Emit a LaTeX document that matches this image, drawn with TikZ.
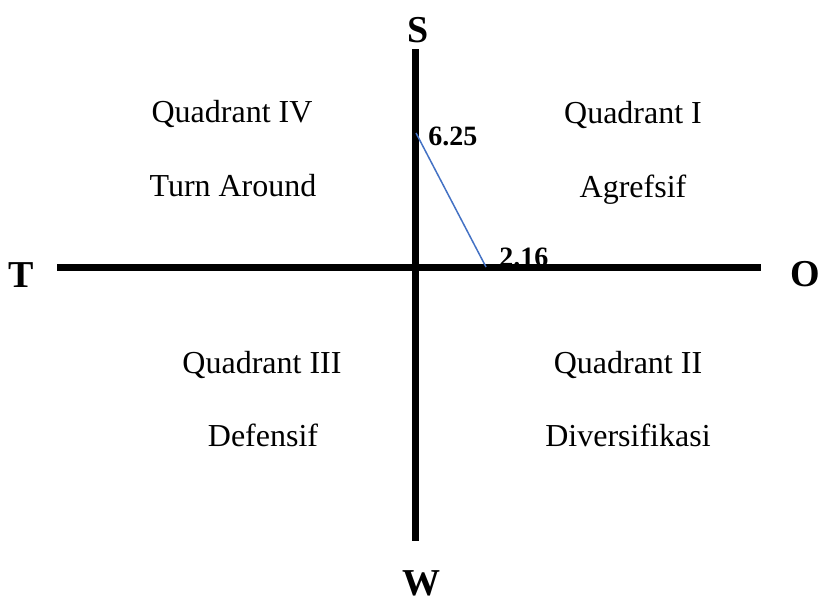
\documentclass[tikz,border=0pt]{standalone}
\usepackage{fontspec}
\setmainfont{Liberation Serif}
\usetikzlibrary{positioning}

\definecolor{lineblue}{HTML}{4472C4}

\begin{document}
\begin{tikzpicture}[x=0.5pt, y=-0.5pt,
	axis/.style={line width=3.4pt},
	axislabel/.style={font=\fontsize{19}{21}\selectfont\bfseries, anchor=base},
	quadlabel/.style={font=\fontsize{16}{18}\selectfont, anchor=base},
	value/.style={font=\fontsize{14}{16}\selectfont\bfseries, anchor=base west, inner sep=0pt}]
	\useasboundingbox (0,0) rectangle (819,601);
	% quadrant texts
	\node[quadlabel] (q4) at (232,122) {Quadrant IV};
	\node[quadlabel] (q4name) at (233,196) {Turn Around};
	\node[quadlabel] (q1) at (633,123) {Quadrant I};
	\node[quadlabel] (q1name) at (633,197) {Agrefsif};
	\node[quadlabel] (q3) at (262,373) {Quadrant III};
	\node[quadlabel] (q3name) at (263,446) {Defensif};
	\node[quadlabel] (q2) at (628,373) {Quadrant II};
	\node[quadlabel] (q2name) at (628,446) {Diversifikasi};
	% values
	\node[value] (vs) at (428,145) {6.25};
	\node[value] (vo) at (499,266) {2.16};
	% axis ends
	\coordinate (top) at (415.5,49);
	\coordinate (bottom) at (415.5,541);
	\coordinate (left) at (57,267.5);
	\coordinate (right) at (761,267.5);
	\draw[axis] (top) -- (bottom);
	\draw[axis] (left) -- (right);
	\node[axislabel] (s) at (418,42) {S};
	\node[axislabel, inner sep=0pt] (w) at (421,595) {W};
	\node[axislabel] (t) at (21,287) {T};
	\node[axislabel, inner sep=0pt] (o) at (805,286) {O};
	% result line
	\coordinate (ps) at (416,133);
	\coordinate (po) at (486,267);
	\draw[lineblue, line width=0.75pt] (ps) -- (po);
\end{tikzpicture}
\end{document}
